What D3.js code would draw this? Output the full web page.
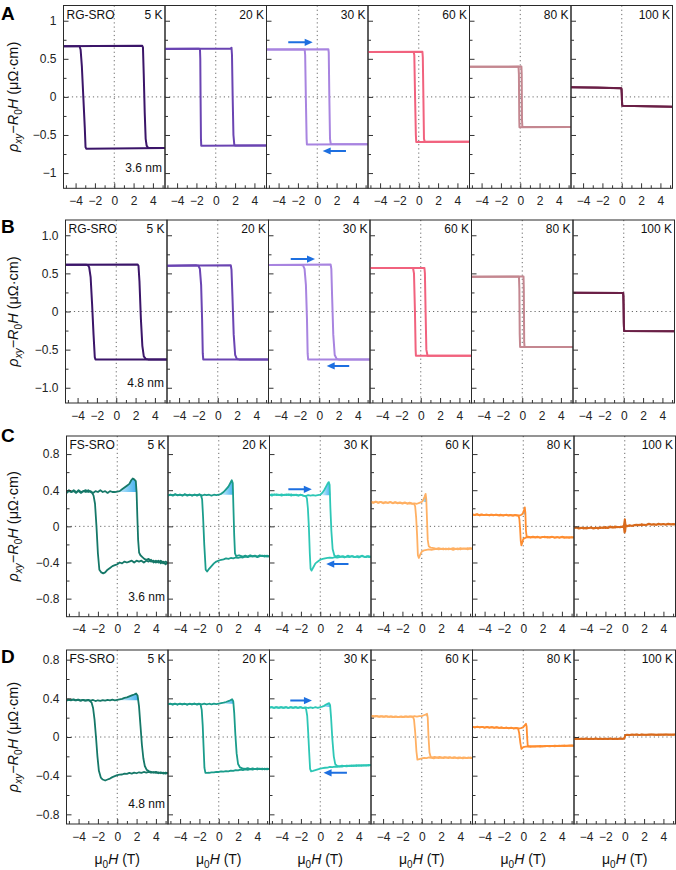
<!DOCTYPE html>
<html><head><meta charset="utf-8">
<script src="https://cdn.jsdelivr.net/npm/d3@7"></script>
<style>body{margin:0;background:#fff;} svg{display:block;font-family:"Liberation Sans",Arial,sans-serif;}</style>
</head><body><svg id="c" width="676" height="870"></svg>
<script>
// ---------------- data ----------------
const temps = ["5 K","20 K","30 K","60 K","80 K","100 K"];
const rowLetters = ["A","B","C","D"];
const materials = ["RG-SRO","RG-SRO","FS-SRO","FS-SRO"];
const thicknesses = ["3.6 nm","4.8 nm","3.6 nm","4.8 nm"];
const xTicks = [-4,-2,0,2,4];
const xMinor = [-5,-3,-1,1,3,5];
const yTicksAB = [-1,-0.5,0,0.5,1];
const yMinorAB = [-0.75,-0.25,0.25,0.75];
const yLabelsA = ["−1","−0.5","0","0.5","1"];
const yLabelsB = ["−1.0","−0.5","0","0.5","1.0"];
const yTicksCD = [-0.8,-0.4,0,0.4,0.8];
const yMinorCD = [-0.6,-0.2,0.2,0.6];
const yLabelsCD = ["−0.8","−0.4","0","0.4","0.8"];
const colorsRG = ["#3b1569","#6a44b2","#a884e0","#f1627e","#c48790","#6a1f46"];
const colorsFS = ["#157868","#1a9c8b","#2dc7b6","#ffb063","#ff8d30","#d86a1c"];

// each loop: [up-sweep points, down-sweep points], points are [μ0H (T), ρ (μΩ·cm)]
const loopsA = [
 [[[-5.25,0.665],[-2,0.667],[2.9,0.67],[2.97,0.65],[3.05,0.3],[3.15,-0.2],[3.25,-0.55],[3.35,-0.64],[3.52,-0.672],[5.25,-0.672]],
  [[5.25,-0.672],[-2.9,-0.68],[-2.97,-0.66],[-3.05,-0.4],[-3.2,0.0],[-3.35,0.4],[-3.48,0.62],[-3.59,0.665],[-5.25,0.665]]],
 [[[-5.25,0.63],[1.55,0.635],[1.63,0.645],[1.68,0.55],[1.75,0.0],[1.83,-0.5],[1.92,-0.63],[2.0,-0.637],[5.25,-0.637]],
  [[5.25,-0.637],[-1.5,-0.64],[-1.53,-0.55],[-1.57,0],[-1.6,0.5],[-1.63,0.62],[-1.7,0.632],[-5.25,0.632]]],
 [[[-5.25,0.622],[1.15,0.627],[1.19,0.58],[1.25,0],[1.32,-0.55],[1.4,-0.62],[5.25,-0.622]],
  [[5.25,-0.622],[-1.07,-0.625],[-1.1,-0.55],[-1.18,0],[-1.25,0.55],[-1.3,0.622],[-5.25,0.622]]],
 [[[-5.25,0.59],[0.38,0.593],[0.42,0.52],[0.48,0],[0.54,-0.55],[0.62,-0.59],[5.25,-0.59]],
  [[5.25,-0.59],[-0.26,-0.593],[-0.3,-0.5],[-0.38,0],[-0.46,0.55],[-0.53,0.59],[-5.25,0.59]]],
 [[[-5.25,0.395],[0.12,0.398],[0.15,0.3],[0.18,-0.3],[0.22,-0.395],[5.25,-0.395]],
  [[5.25,-0.395],[-0.08,-0.398],[-0.1,-0.3],[-0.14,0.3],[-0.18,0.395],[-5.25,0.395]]],
 [[[-5.25,0.128],[-2.5,0.122],[-0.04,0.115],[0,0.05],[0.04,-0.1],[0.08,-0.115],[2.5,-0.122],[5.25,-0.13]],
  [[5.25,-0.13],[2.5,-0.123],[0.06,-0.117],[0.02,-0.05],[-0.02,0.1],[-0.06,0.113],[-2.5,0.121],[-5.25,0.127]]]
];
const loopsB = [
 [[[-5.25,0.614],[2.2,0.617],[2.3,0.6],[2.4,0.4],[2.55,-0.1],[2.7,-0.45],[2.85,-0.59],[3.05,-0.622],[3.3,-0.628],[5.25,-0.628]],
  [[5.25,-0.628],[-2.15,-0.628],[-2.22,-0.6],[-2.35,-0.3],[-2.5,0.1],[-2.65,0.45],[-2.8,0.58],[-2.95,0.61],[-3.15,0.614],[-5.25,0.614]]],
 [[[-5.25,0.6],[1.35,0.605],[1.42,0.55],[1.52,0.2],[1.65,-0.3],[1.8,-0.57],[1.97,-0.622],[2.2,-0.628],[5.25,-0.628]],
  [[5.25,-0.628],[-1.5,-0.628],[-1.55,-0.55],[-1.62,-0.1],[-1.72,0.35],[-1.85,0.56],[-2.0,0.6],[-2.2,0.605],[-5.25,0.6]]],
 [[[-5.25,0.61],[1.18,0.615],[1.25,0.56],[1.33,0.2],[1.45,-0.3],[1.6,-0.57],[1.8,-0.622],[2.0,-0.628],[5.25,-0.628]],
  [[5.25,-0.628],[-1.15,-0.628],[-1.2,-0.55],[-1.27,-0.1],[-1.38,0.35],[-1.52,0.56],[-1.68,0.605],[-1.9,0.61],[-5.25,0.61]]],
 [[[-5.25,0.57],[0.38,0.572],[0.43,0.5],[0.5,0],[0.58,-0.5],[0.7,-0.58],[5.25,-0.58]],
  [[5.25,-0.58],[-0.5,-0.58],[-0.53,-0.5],[-0.6,0],[-0.7,0.5],[-0.8,0.57],[-5.25,0.57]]],
 [[[-5.25,0.457],[0.13,0.46],[0.16,0.3],[0.2,-0.4],[0.24,-0.466],[5.25,-0.466]],
  [[5.25,-0.466],[-0.22,-0.466],[-0.26,-0.3],[-0.3,0.3],[-0.34,0.457],[-5.25,0.457]]],
 [[[-5.25,0.245],[-0.06,0.244],[-0.02,0.1],[0.02,-0.2],[0.05,-0.256],[5.25,-0.258]],
  [[5.25,-0.258],[0.04,-0.257],[0,-0.15],[-0.03,0.2],[-0.06,0.244],[-5.25,0.245]]]
];
const loopsC = [
 [[[-5.25,0.37],[-5,0.39],[-4.75,0.38],[-4.5,0.40],[-4.25,0.38],[-4,0.39],[-3.75,0.37],[-3.5,0.39],[-3.25,0.40],[-3,0.38],[-2.75,0.39],[-2.5,0.37],[-2.25,0.39],[-2,0.38],[-1.75,0.40],[-1.5,0.38],[-1.25,0.39],[-1,0.37],[-0.75,0.39],[-0.5,0.38],[-0.25,0.38],[0,0.385],[0.25,0.39],[0.5,0.41],[0.75,0.43],[1,0.45],[1.25,0.47],[1.45,0.51],[1.6,0.53],[1.75,0.52],[1.92,0.5],[2.0,0.38],[2.08,0.1],[2.16,-0.15],[2.26,-0.29],[2.4,-0.32],[2.6,-0.34],[2.8,-0.36],[3,-0.37],[3.25,-0.36],[3.5,-0.39],[3.75,-0.38],[4,-0.40],[4.25,-0.38],[4.5,-0.41],[4.75,-0.39],[5,-0.42],[5.25,-0.40]],
  [[5.25,-0.41],[5,-0.39],[4.75,-0.41],[4.5,-0.38],[4.25,-0.40],[4,-0.38],[3.75,-0.40],[3.5,-0.37],[3.25,-0.39],[3,-0.38],[2.75,-0.40],[2.5,-0.38],[2.25,-0.39],[2,-0.38],[1.75,-0.40],[1.5,-0.38],[1.25,-0.39],[1,-0.40],[0.75,-0.39],[0.5,-0.41],[0.25,-0.40],[0,-0.42],[-0.25,-0.43],[-0.5,-0.44],[-0.75,-0.46],[-1,-0.48],[-1.25,-0.51],[-1.45,-0.52],[-1.65,-0.51],[-1.85,-0.48],[-2.0,-0.3],[-2.15,0],[-2.3,0.25],[-2.45,0.34],[-2.6,0.37],[-2.75,0.38],[-3,0.40],[-3.25,0.38],[-3.5,0.39],[-3.75,0.38],[-4,0.40],[-4.25,0.37],[-4.5,0.39],[-4.75,0.38],[-5,0.40],[-5.25,0.38]]],
 [[[-5.25,0.34],[-5,0.35],[-4.75,0.34],[-4.5,0.355],[-4.25,0.345],[-4,0.35],[-3.75,0.34],[-3.5,0.355],[-3.25,0.345],[-3,0.35],[-2.75,0.34],[-2.5,0.35],[-2.25,0.345],[-2,0.355],[-1.75,0.34],[-1.5,0.35],[-1.25,0.345],[-1,0.35],[-0.75,0.34],[-0.5,0.35],[-0.25,0.345],[0,0.35],[0.25,0.36],[0.5,0.38],[0.75,0.41],[1,0.44],[1.2,0.48],[1.35,0.51],[1.45,0.48],[1.52,0.2],[1.6,-0.1],[1.68,-0.3],[1.8,-0.33],[2.1,-0.32],[2.5,-0.335],[2.75,-0.325],[3,-0.335],[3.25,-0.32],[3.5,-0.33],[3.75,-0.325],[4,-0.335],[4.25,-0.32],[4.5,-0.33],[4.75,-0.325],[5,-0.335],[5.25,-0.33]],
  [[5.25,-0.335],[5,-0.325],[4.75,-0.335],[4.5,-0.325],[4.25,-0.33],[4,-0.34],[3.75,-0.33],[3.5,-0.335],[3.25,-0.33],[3,-0.34],[2.75,-0.335],[2.5,-0.345],[2.25,-0.34],[2,-0.35],[1.75,-0.345],[1.5,-0.355],[1.25,-0.35],[1,-0.36],[0.75,-0.355],[0.5,-0.365],[0.25,-0.37],[0,-0.38],[-0.25,-0.39],[-0.5,-0.41],[-0.75,-0.44],[-1,-0.47],[-1.2,-0.5],[-1.35,-0.48],[-1.5,-0.2],[-1.62,0.1],[-1.72,0.3],[-1.85,0.345],[-2,0.35],[-2.25,0.34],[-2.5,0.352],[-2.75,0.343],[-3,0.35],[-3.25,0.34],[-3.5,0.353],[-3.75,0.344],[-4,0.35],[-4.25,0.342],[-4.5,0.354],[-4.75,0.345],[-5,0.352],[-5.25,0.344]]],
 [[[-5.25,0.35],[-5,0.34],[-4.75,0.355],[-4.5,0.345],[-4.25,0.35],[-4,0.34],[-3.75,0.35],[-3.5,0.345],[-3.25,0.355],[-3,0.34],[-2.75,0.35],[-2.5,0.345],[-2.25,0.34],[-2,0.35],[-1.75,0.34],[-1.5,0.335],[-1.25,0.345],[-1,0.34],[-0.75,0.345],[-0.5,0.34],[-0.25,0.345],[0,0.35],[0.2,0.37],[0.4,0.4],[0.6,0.44],[0.75,0.47],[0.88,0.49],[0.97,0.46],[1.05,0.2],[1.15,-0.05],[1.28,-0.25],[1.45,-0.32],[1.6,-0.335],[1.85,-0.325],[2.1,-0.335],[2.35,-0.33],[2.6,-0.34],[2.85,-0.325],[3.1,-0.335],[3.35,-0.33],[3.6,-0.34],[3.85,-0.33],[4.1,-0.335],[4.35,-0.325],[4.6,-0.34],[4.85,-0.33],[5.05,-0.34],[5.25,-0.335]],
  [[5.25,-0.34],[5,-0.33],[4.75,-0.34],[4.5,-0.335],[4.25,-0.33],[4,-0.345],[3.75,-0.335],[3.5,-0.34],[3.25,-0.33],[3,-0.34],[2.75,-0.335],[2.5,-0.345],[2.25,-0.335],[2,-0.34],[1.75,-0.345],[1.5,-0.34],[1.25,-0.35],[1,-0.345],[0.75,-0.35],[0.5,-0.355],[0.25,-0.36],[0,-0.37],[-0.25,-0.39],[-0.5,-0.41],[-0.7,-0.45],[-0.9,-0.49],[-1.0,-0.47],[-1.08,-0.3],[-1.18,0],[-1.28,0.2],[-1.38,0.31],[-1.5,0.335],[-1.75,0.34],[-2,0.35],[-2.25,0.342],[-2.5,0.352],[-2.75,0.344],[-3,0.353],[-3.25,0.345],[-3.5,0.354],[-3.75,0.346],[-4,0.353],[-4.25,0.345],[-4.5,0.355],[-4.75,0.347],[-5,0.354],[-5.25,0.346]]],
 [[[-5.25,0.27],[-5,0.26],[-4.75,0.275],[-4.5,0.26],[-4.25,0.27],[-4,0.255],[-3.75,0.265],[-3.5,0.26],[-3.25,0.27],[-3,0.255],[-2.75,0.265],[-2.5,0.255],[-2.25,0.26],[-2,0.25],[-1.75,0.26],[-1.5,0.25],[-1.25,0.255],[-1,0.25],[-0.75,0.255],[-0.5,0.25],[-0.25,0.26],[0,0.27],[0.15,0.29],[0.3,0.33],[0.4,0.36],[0.47,0.3],[0.55,0.05],[0.62,-0.15],[0.72,-0.22],[0.9,-0.235],[1.25,-0.24],[1.5,-0.25],[1.75,-0.24],[2,-0.25],[2.25,-0.245],[2.5,-0.255],[2.75,-0.245],[3,-0.25],[3.25,-0.24],[3.5,-0.25],[3.75,-0.245],[4,-0.255],[4.25,-0.245],[4.5,-0.25],[4.75,-0.24],[5,-0.25],[5.25,-0.245]],
  [[5.25,-0.25],[5,-0.24],[4.75,-0.255],[4.5,-0.245],[4.25,-0.25],[4,-0.24],[3.75,-0.255],[3.5,-0.25],[3.25,-0.26],[3,-0.25],[2.75,-0.255],[2.5,-0.245],[2.25,-0.255],[2,-0.25],[1.75,-0.255],[1.5,-0.25],[1.25,-0.255],[1,-0.26],[0.75,-0.255],[0.5,-0.26],[0.25,-0.265],[0,-0.28],[-0.15,-0.31],[-0.3,-0.35],[-0.4,-0.32],[-0.48,-0.1],[-0.58,0.1],[-0.68,0.22],[-0.8,0.25],[-1,0.255],[-1.25,0.262],[-1.5,0.255],[-1.75,0.265],[-2,0.258],[-2.25,0.266],[-2.5,0.259],[-2.75,0.267],[-3,0.26],[-3.25,0.268],[-3.5,0.261],[-3.75,0.269],[-4,0.262],[-4.25,0.27],[-4.5,0.263],[-4.75,0.271],[-5,0.264],[-5.25,0.27]]],
 [[[-5.25,0.13],[-5,0.125],[-4.75,0.135],[-4.5,0.12],[-4.25,0.13],[-4,0.125],[-3.75,0.13],[-3.5,0.12],[-3.25,0.13],[-3,0.125],[-2.75,0.13],[-2.5,0.12],[-2.25,0.125],[-2,0.12],[-1.75,0.13],[-1.5,0.12],[-1.25,0.125],[-1,0.12],[-0.75,0.125],[-0.5,0.12],[-0.25,0.125],[-0.05,0.14],[0.08,0.18],[0.16,0.21],[0.22,0.15],[0.28,-0.05],[0.35,-0.11],[0.5,-0.115],[0.75,-0.12],[1,-0.115],[1.25,-0.12],[1.5,-0.115],[1.75,-0.125],[2,-0.12],[2.25,-0.115],[2.5,-0.125],[2.75,-0.12],[3,-0.115],[3.25,-0.125],[3.5,-0.12],[3.75,-0.125],[4,-0.115],[4.25,-0.12],[4.5,-0.125],[4.75,-0.12],[5,-0.125],[5.25,-0.12]],
  [[5.25,-0.125],[5,-0.118],[4.75,-0.127],[4.5,-0.12],[4.25,-0.128],[4,-0.12],[3.75,-0.126],[3.5,-0.118],[3.25,-0.125],[3,-0.117],[2.75,-0.124],[2.5,-0.116],[2.25,-0.123],[2,-0.117],[1.75,-0.124],[1.5,-0.118],[1.25,-0.125],[1,-0.12],[0.75,-0.126],[0.5,-0.12],[0.25,-0.125],[0,-0.14],[-0.1,-0.18],[-0.19,-0.21],[-0.26,-0.16],[-0.33,-0.02],[-0.4,0.08],[-0.47,0.115],[-0.6,0.12],[-0.85,0.126],[-1.1,0.119],[-1.35,0.127],[-1.6,0.12],[-1.85,0.128],[-2.1,0.121],[-2.35,0.129],[-2.6,0.122],[-2.85,0.13],[-3.1,0.122],[-3.35,0.13],[-3.6,0.123],[-3.85,0.131],[-4.1,0.124],[-4.35,0.132],[-4.6,0.125],[-4.85,0.133],[-5.05,0.126],[-5.25,0.132]]],
 [[[-5.25,-0.02],[-5,-0.01],[-4.75,-0.02],[-4.5,-0.015],[-4.25,-0.025],[-4,-0.015],[-3.75,-0.02],[-3.5,-0.01],[-3.25,-0.02],[-3,-0.015],[-2.75,-0.025],[-2.5,-0.01],[-2.25,-0.02],[-2,-0.005],[-1.75,-0.02],[-1.5,-0.01],[-1.25,-0.015],[-1,0],[-0.75,-0.01],[-0.5,-0.005],[-0.25,0],[-0.1,0.005],[0,0.08],[0.05,-0.06],[0.12,0.01],[0.25,0.005],[0.5,0.01],[0.75,0.005],[1,0.015],[1.25,0.02],[1.5,0.01],[1.75,0.025],[2,0.015],[2.25,0.02],[2.5,0.03],[2.75,0.02],[3,0.025],[3.25,0.02],[3.5,0.03],[3.75,0.02],[4,0.025],[4.25,0.02],[4.5,0.03],[4.75,0.025],[5,0.02],[5.25,0.025]],
  [[5.25,0.02],[5,0.028],[4.75,0.02],[4.5,0.025],[4.25,0.018],[4,0.028],[3.75,0.022],[3.5,0.025],[3.25,0.015],[3,0.022],[2.75,0.018],[2.5,0.025],[2.25,0.015],[2,0.02],[1.75,0.012],[1.5,0.018],[1.25,0.01],[1,0.012],[0.75,0.005],[0.5,0.01],[0.25,0],[0.1,0.005],[0.03,0.07],[-0.03,-0.07],[-0.1,-0.01],[-0.25,-0.005],[-0.5,-0.01],[-0.75,-0.005],[-1,-0.015],[-1.25,-0.01],[-1.5,0],[-1.75,-0.015],[-2,-0.02],[-2.25,-0.01],[-2.5,-0.02],[-2.75,-0.015],[-3,-0.02],[-3.25,-0.025],[-3.5,-0.015],[-3.75,-0.02],[-4,-0.025],[-4.25,-0.015],[-4.5,-0.02],[-4.75,-0.025],[-5,-0.015],[-5.25,-0.02]]]
];
const loopsD = [
 [[[-5.25,0.375],[-5,0.385],[-4.75,0.38],[-4.5,0.39],[-4.25,0.378],[-4,0.386],[-3.75,0.375],[-3.5,0.384],[-3.25,0.377],[-3,0.385],[-2.75,0.376],[-2.5,0.383],[-2.25,0.372],[-2,0.38],[-1.75,0.374],[-1.5,0.382],[-1.25,0.376],[-1,0.384],[-0.75,0.378],[-0.5,0.386],[-0.25,0.38],[0,0.385],[0.25,0.39],[0.5,0.395],[0.75,0.405],[1,0.41],[1.25,0.42],[1.5,0.43],[1.75,0.44],[1.95,0.45],[2.1,0.43],[2.25,0.32],[2.4,0.12],[2.55,-0.08],[2.7,-0.22],[2.85,-0.3],[3.05,-0.34],[3.3,-0.355],[3.5,-0.36],[3.75,-0.37],[4,-0.36],[4.25,-0.375],[4.5,-0.365],[4.75,-0.378],[5,-0.368],[5.25,-0.375]],
  [[5.25,-0.37],[5,-0.378],[4.75,-0.368],[4.5,-0.375],[4.25,-0.365],[4,-0.372],[3.75,-0.362],[3.5,-0.37],[3.25,-0.36],[3,-0.368],[2.75,-0.362],[2.5,-0.372],[2.25,-0.365],[2,-0.375],[1.75,-0.368],[1.5,-0.378],[1.25,-0.372],[1,-0.382],[0.75,-0.378],[0.5,-0.388],[0.25,-0.39],[0,-0.395],[-0.25,-0.405],[-0.5,-0.415],[-0.75,-0.43],[-1,-0.44],[-1.25,-0.45],[-1.5,-0.44],[-1.7,-0.42],[-1.9,-0.35],[-2.05,-0.2],[-2.2,0.0],[-2.35,0.18],[-2.5,0.3],[-2.65,0.355],[-2.85,0.375],[-3.1,0.382],[-3.35,0.376],[-3.6,0.385],[-3.85,0.377],[-4.1,0.386],[-4.35,0.378],[-4.6,0.388],[-4.85,0.38],[-5.05,0.387],[-5.25,0.38]]],
 [[[-5.25,0.34],[-5,0.345],[-4.75,0.335],[-4.5,0.344],[-4.25,0.336],[-4,0.345],[-3.75,0.337],[-3.5,0.343],[-3.25,0.335],[-3,0.344],[-2.75,0.338],[-2.5,0.345],[-2.25,0.336],[-2,0.343],[-1.75,0.338],[-1.5,0.345],[-1.25,0.337],[-1,0.344],[-0.75,0.338],[-0.5,0.345],[-0.25,0.34],[0,0.345],[0.25,0.35],[0.5,0.355],[0.75,0.362],[1,0.372],[1.2,0.38],[1.38,0.39],[1.5,0.37],[1.6,0.25],[1.72,0.02],[1.85,-0.17],[2.0,-0.28],[2.2,-0.315],[2.45,-0.325],[2.75,-0.33],[3,-0.322],[3.25,-0.332],[3.5,-0.325],[3.75,-0.333],[4,-0.325],[4.25,-0.333],[4.5,-0.326],[4.75,-0.334],[5,-0.327],[5.25,-0.333]],
  [[5.25,-0.328],[5,-0.334],[4.75,-0.327],[4.5,-0.335],[4.25,-0.328],[4,-0.336],[3.75,-0.33],[3.5,-0.338],[3.25,-0.332],[3,-0.34],[2.75,-0.335],[2.5,-0.342],[2.25,-0.338],[2,-0.346],[1.75,-0.342],[1.5,-0.35],[1.25,-0.347],[1,-0.355],[0.75,-0.352],[0.5,-0.358],[0.25,-0.356],[0,-0.362],[-0.25,-0.36],[-0.5,-0.366],[-0.75,-0.365],[-1,-0.37],[-1.2,-0.372],[-1.38,-0.37],[-1.48,-0.32],[-1.57,-0.1],[-1.66,0.12],[-1.76,0.28],[-1.88,0.335],[-2.05,0.345],[-2.3,0.338],[-2.55,0.345],[-2.8,0.337],[-3.05,0.344],[-3.3,0.336],[-3.55,0.345],[-3.8,0.337],[-4.05,0.344],[-4.3,0.336],[-4.55,0.345],[-4.8,0.337],[-5.05,0.344],[-5.25,0.338]]],
 [[[-5.25,0.305],[-5,0.31],[-4.75,0.3],[-4.5,0.308],[-4.25,0.301],[-4,0.31],[-3.75,0.302],[-3.5,0.309],[-3.25,0.3],[-3,0.308],[-2.75,0.302],[-2.5,0.31],[-2.25,0.301],[-2,0.308],[-1.75,0.3],[-1.5,0.307],[-1.25,0.3],[-1,0.306],[-0.75,0.3],[-0.5,0.308],[-0.25,0.302],[0,0.31],[0.2,0.315],[0.4,0.322],[0.6,0.335],[0.8,0.345],[0.92,0.35],[1.02,0.33],[1.12,0.2],[1.25,-0.02],[1.4,-0.2],[1.55,-0.28],[1.75,-0.3],[2,-0.303],[2.25,-0.297],[2.5,-0.302],[2.75,-0.295],[3,-0.3],[3.25,-0.294],[3.5,-0.3],[3.75,-0.292],[4,-0.298],[4.25,-0.291],[4.5,-0.297],[4.75,-0.29],[5,-0.295],[5.25,-0.289]],
  [[5.25,-0.293],[5,-0.288],[4.75,-0.296],[4.5,-0.29],[4.25,-0.298],[4,-0.292],[3.75,-0.3],[3.5,-0.294],[3.25,-0.302],[3,-0.297],[2.75,-0.304],[2.5,-0.3],[2.25,-0.307],[2,-0.303],[1.75,-0.31],[1.5,-0.306],[1.25,-0.312],[1,-0.31],[0.75,-0.316],[0.5,-0.318],[0.25,-0.322],[0,-0.328],[-0.25,-0.335],[-0.5,-0.342],[-0.75,-0.35],[-0.95,-0.355],[-1.05,-0.33],[-1.15,-0.15],[-1.25,0.05],[-1.35,0.22],[-1.47,0.29],[-1.6,0.305],[-1.85,0.3],[-2.1,0.308],[-2.35,0.3],[-2.6,0.309],[-2.85,0.301],[-3.1,0.308],[-3.35,0.3],[-3.6,0.31],[-3.85,0.302],[-4.1,0.309],[-4.35,0.301],[-4.6,0.31],[-4.85,0.302],[-5.05,0.309],[-5.25,0.303]]],
 [[[-5.25,0.215],[-5,0.21],[-4.75,0.218],[-4.5,0.21],[-4.25,0.216],[-4,0.208],[-3.75,0.215],[-3.5,0.207],[-3.25,0.214],[-3,0.206],[-2.75,0.213],[-2.5,0.205],[-2.25,0.212],[-2,0.206],[-1.75,0.213],[-1.5,0.207],[-1.25,0.214],[-1,0.208],[-0.75,0.215],[-0.5,0.21],[-0.25,0.217],[0,0.215],[0.2,0.225],[0.4,0.232],[0.55,0.24],[0.62,0.2],[0.7,0.0],[0.8,-0.16],[0.92,-0.205],[1.1,-0.21],[1.35,-0.205],[1.6,-0.212],[1.85,-0.206],[2.1,-0.213],[2.35,-0.207],[2.6,-0.214],[2.85,-0.208],[3.1,-0.215],[3.35,-0.209],[3.6,-0.216],[3.85,-0.21],[4.1,-0.217],[4.35,-0.211],[4.6,-0.218],[4.85,-0.212],[5.05,-0.219],[5.25,-0.214]],
  [[5.25,-0.218],[5,-0.212],[4.75,-0.219],[4.5,-0.213],[4.25,-0.22],[4,-0.214],[3.75,-0.22],[3.5,-0.213],[3.25,-0.219],[3,-0.212],[2.75,-0.218],[2.5,-0.212],[2.25,-0.218],[2,-0.213],[1.75,-0.219],[1.5,-0.214],[1.25,-0.22],[1,-0.215],[0.75,-0.212],[0.5,-0.218],[0.25,-0.215],[0,-0.222],[-0.25,-0.228],[-0.45,-0.234],[-0.55,-0.15],[-0.68,0.05],[-0.8,0.18],[-0.92,0.21],[-1.1,0.213],[-1.35,0.207],[-1.6,0.214],[-1.85,0.206],[-2.1,0.213],[-2.35,0.205],[-2.6,0.212],[-2.85,0.206],[-3.1,0.214],[-3.35,0.207],[-3.6,0.215],[-3.85,0.208],[-4.1,0.216],[-4.35,0.209],[-4.6,0.217],[-4.85,0.21],[-5.05,0.218],[-5.25,0.212]]],
 [[[-5.25,0.105],[-5,0.1],[-4.75,0.107],[-4.5,0.1],[-4.25,0.105],[-4,0.098],[-3.75,0.104],[-3.5,0.097],[-3.25,0.103],[-3,0.096],[-2.75,0.101],[-2.5,0.095],[-2.25,0.1],[-2,0.093],[-1.75,0.098],[-1.5,0.092],[-1.25,0.096],[-1,0.09],[-0.75,0.094],[-0.5,0.088],[-0.25,0.092],[0,0.1],[0.15,0.12],[0.28,0.137],[0.35,0.11],[0.4,0.0],[0.46,-0.085],[0.55,-0.097],[0.75,-0.095],[1,-0.098],[1.25,-0.094],[1.5,-0.097],[1.75,-0.093],[2,-0.096],[2.25,-0.092],[2.5,-0.095],[2.75,-0.091],[3,-0.094],[3.25,-0.09],[3.5,-0.093],[3.75,-0.089],[4,-0.092],[4.25,-0.088],[4.5,-0.091],[4.75,-0.087],[5,-0.09],[5.25,-0.088]],
  [[5.25,-0.091],[5,-0.088],[4.75,-0.092],[4.5,-0.089],[4.25,-0.094],[4,-0.09],[3.75,-0.095],[3.5,-0.091],[3.25,-0.096],[3,-0.092],[2.75,-0.097],[2.5,-0.093],[2.25,-0.098],[2,-0.094],[1.75,-0.099],[1.5,-0.095],[1.25,-0.1],[1,-0.096],[0.75,-0.101],[0.5,-0.098],[0.25,-0.1],[0,-0.105],[-0.1,-0.115],[-0.19,-0.124],[-0.3,-0.06],[-0.42,0.04],[-0.54,0.09],[-0.75,0.092],[-1,0.088],[-1.25,0.094],[-1.5,0.09],[-1.75,0.096],[-2,0.092],[-2.25,0.098],[-2.5,0.094],[-2.75,0.1],[-3,0.095],[-3.25,0.101],[-3.5,0.096],[-3.75,0.102],[-4,0.098],[-4.25,0.104],[-4.5,0.099],[-4.75,0.105],[-5,0.1],[-5.25,0.106]]],
 [[[-5.25,-0.02],[-5,-0.015],[-4.75,-0.022],[-4.5,-0.018],[-4.25,-0.02],[-4,-0.015],[-3.75,-0.022],[-3.5,-0.018],[-3.25,-0.02],[-3,-0.015],[-2.75,-0.02],[-2.5,-0.018],[-2.25,-0.022],[-2,-0.016],[-1.75,-0.02],[-1.5,-0.017],[-1.25,-0.022],[-1,-0.018],[-0.75,-0.02],[-0.5,-0.015],[-0.25,-0.018],[-0.05,-0.015],[0,0.005],[0.08,0.022],[0.25,0.025],[0.5,0.022],[0.75,0.027],[1,0.024],[1.25,0.028],[1.5,0.023],[1.75,0.027],[2,0.025],[2.25,0.022],[2.5,0.027],[2.75,0.024],[3,0.028],[3.25,0.023],[3.5,0.026],[3.75,0.022],[4,0.027],[4.25,0.024],[4.5,0.026],[4.75,0.022],[5,0.027],[5.25,0.025]],
  [[5.25,0.027],[5,0.023],[4.75,0.026],[4.5,0.021],[4.25,0.026],[4,0.023],[3.75,0.027],[3.5,0.022],[3.25,0.025],[3,0.021],[2.75,0.026],[2.5,0.022],[2.25,0.025],[2,0.021],[1.75,0.024],[1.5,0.02],[1.25,0.024],[1,0.021],[0.75,0.023],[0.5,0.02],[0.25,0.022],[0.05,0.018],[0,0.0],[-0.06,-0.017],[-0.25,-0.02],[-0.5,-0.017],[-0.75,-0.022],[-1,-0.016],[-1.25,-0.02],[-1.5,-0.015],[-1.75,-0.021],[-2,-0.017],[-2.25,-0.02],[-2.5,-0.016],[-2.75,-0.022],[-3,-0.017],[-3.25,-0.021],[-3.5,-0.016],[-3.75,-0.02],[-4,-0.017],[-4.25,-0.022],[-4.5,-0.016],[-4.75,-0.021],[-5,-0.018],[-5.25,-0.022]]]
];
// sweep-direction arrows in the 30 K panels: [H start, H tip, ρ]
const arrowsA = [[-3.0,-0.47,0.716],[2.97,0.56,-0.71]];
const arrowsB = [[-2.95,-0.44,0.688],[3.1,0.77,-0.714]];
const arrowsC = [[-3.3,-0.87,0.41],[2.92,0.62,-0.417]];
const arrowsD = [[-3.1,-0.86,0.377],[2.76,0.34,-0.371]];
// shaded hump regions: [H from, H to, baseline ρ]
const fillsC = [[0,2.04,0.38],[0.15,1.54,0.35],[0.15,1.08,0.345],[0.1,0.52,0.27],[-0.05,0.26,0.13],null];
const fillsD = [[0.1,2.32,0.38],[0.3,1.62,0.345],[0.3,1.14,0.31],[0.3,0.63,0.215],null,null];

// ---------------- drawing ----------------
const svg = d3.select("#c");
const defs = svg.append("defs");
const grad = defs.append("linearGradient").attr("id","bluefill")
  .attr("x1","0").attr("x2","1").attr("y1","0").attr("y2","0");
grad.append("stop").attr("offset","0").attr("stop-color","#d6effc");
grad.append("stop").attr("offset","0.55").attr("stop-color","#7fccf5");
grad.append("stop").attr("offset","1").attr("stop-color","#45b1f0");

const W = 101.5;
const rows = [
 {letter:rowLetters[0], mat:materials[0], thick:thicknesses[0], top:5.5, bottom:188.3, left:63.5, dom:[-1.2,1.2], ticks:yTicksAB, minor:yMinorAB, labels:yLabelsA, loops:loopsA, colors:colorsRG, arrows:arrowsA, fills:null, lw:2, letterY:19.5},
 {letter:rowLetters[1], mat:materials[1], thick:thicknesses[1], top:220, bottom:403, left:65.5, dom:[-1.2,1.2], ticks:yTicksAB, minor:yMinorAB, labels:yLabelsB, loops:loopsB, colors:colorsRG, arrows:arrowsB, fills:null, lw:2, letterY:233},
 {letter:rowLetters[2], mat:materials[2], thick:thicknesses[2], top:436, bottom:616.7, left:66.5, dom:[-1,1], ticks:yTicksCD, minor:yMinorCD, labels:yLabelsCD, loops:loopsC, colors:colorsFS, arrows:arrowsC, fills:fillsC, lw:1.8, letterY:442},
 {letter:rowLetters[3], mat:materials[3], thick:thicknesses[3], top:650, bottom:824, left:66.5, dom:[-0.9,0.9], ticks:yTicksCD, minor:yMinorCD, labels:yLabelsCD, loops:loopsD, colors:colorsFS, arrows:arrowsD, fills:fillsD, lw:1.8, letterY:663}
];

const fmtX = d => d < 0 ? "−" + Math.abs(d) : String(d);

rows.forEach((r, ri) => {
  svg.append("text").attr("x", 1).attr("y", r.letterY)
    .attr("font-size", 19).attr("font-weight", "bold").attr("fill", "#000").text(r.letter);
  const cy = (r.top + r.bottom) / 2;
  const yt = svg.append("text").attr("transform", `translate(18,${cy}) rotate(-90)`)
    .attr("text-anchor", "middle").attr("font-size", 14.5).attr("fill", "#111");
  yt.append("tspan").attr("font-style","italic").text("ρ");
  yt.append("tspan").attr("font-size", 10).attr("font-style","italic").attr("dy", 3.5).text("xy");
  yt.append("tspan").attr("dy", -3.5).text("−");
  yt.append("tspan").attr("font-style","italic").text("R");
  yt.append("tspan").attr("font-size", 10).attr("dy", 3.5).text("0");
  yt.append("tspan").attr("font-style","italic").attr("dy", -3.5).text("H");
  yt.append("tspan").text(" (μΩ·cm)");

  const y = d3.scaleLinear().domain(r.dom).range([r.bottom, r.top]);
  r.loops.forEach((loop, i) => {
    const x0 = r.left + i * W, x1 = x0 + W;
    const x = d3.scaleLinear().domain([-5.25, 5.25]).range([x0, x1]);
    const g = svg.append("g");
    const cid = `clip${ri}_${i}`;
    defs.append("clipPath").attr("id", cid).append("rect")
      .attr("x", x0).attr("y", r.top).attr("width", W).attr("height", r.bottom - r.top);
    const plot = g.append("g").attr("clip-path", `url(#${cid})`);
    plot.append("line").attr("x1", x(0)).attr("x2", x(0)).attr("y1", r.top).attr("y2", r.bottom)
      .attr("stroke", "#6a6a6a").attr("stroke-width", 1).attr("stroke-dasharray", "1.2,3");
    plot.append("line").attr("x1", x0).attr("x2", x1).attr("y1", y(0)).attr("y2", y(0))
      .attr("stroke", "#6a6a6a").attr("stroke-width", 1).attr("stroke-dasharray", "1.2,3");
    if (r.fills && r.fills[i]) {
      const [h0, h1, base] = r.fills[i];
      const pts = loop[0].filter(p => p[0] >= h0 && p[0] <= h1);
      const area = d3.area().x(p => x(p[0])).y0(y(base)).y1(p => y(Math.max(p[1], base)));
      plot.append("path").attr("d", area(pts)).attr("fill", "url(#bluefill)");
    }
    const line = d3.line().x(p => x(p[0])).y(p => y(p[1])).curve(d3.curveLinear);
    loop.forEach(branch => {
      plot.append("path").attr("d", line(branch)).attr("fill", "none")
        .attr("stroke", r.colors[i]).attr("stroke-width", r.lw).attr("stroke-linejoin", "round");
    });
    if (i === 2) {
      r.arrows.forEach(a => {
        const xs = x(a[0]), xt = x(a[1]), yy = y(a[2]);
        const dir = Math.sign(xt - xs);
        plot.append("line").attr("x1", xs).attr("x2", xt - dir * 6).attr("y1", yy).attr("y2", yy)
          .attr("stroke", "#1d6fe0").attr("stroke-width", 2);
        plot.append("path").attr("d", `M${xt},${yy} L${xt - dir * 8},${yy - 3.6} L${xt - dir * 8},${yy + 3.6} Z`)
          .attr("fill", "#1d6fe0");
      });
    }
    g.append("rect").attr("x", x0).attr("y", r.top).attr("width", W).attr("height", r.bottom - r.top)
      .attr("fill", "none").attr("stroke", "#2a2a2a").attr("stroke-width", 1);
    g.append("g").attr("transform", `translate(0,${r.bottom})`)
      .call(d3.axisBottom(x).tickValues(xTicks).tickSizeInner(-5).tickSizeOuter(0).tickPadding(8).tickFormat(fmtX));
    g.append("g").attr("transform", `translate(0,${r.bottom})`)
      .call(d3.axisBottom(x).tickValues(xMinor).tickSizeInner(-3).tickSizeOuter(0).tickFormat(""));
    g.append("g").attr("transform", `translate(${x0},0)`)
      .call(d3.axisLeft(y).tickValues(r.ticks).tickSizeInner(-5).tickSizeOuter(0).tickPadding(7)
        .tickFormat((d, k) => i === 0 ? r.labels[k] : ""));
    g.append("g").attr("transform", `translate(${x0},0)`)
      .call(d3.axisLeft(y).tickValues(r.minor).tickSizeInner(-3).tickSizeOuter(0).tickFormat(""));
    g.selectAll(".domain").remove();
    g.selectAll(".tick line").attr("stroke", "#333");
    g.selectAll(".tick text").attr("font-size", 12).attr("fill", "#222")
      .attr("font-family", '"Liberation Sans",Arial,sans-serif');
    g.append("text").attr("x", x1 - 2.5).attr("y", r.top + 13).attr("text-anchor", "end")
      .attr("font-size", 12).attr("fill", "#111").text(temps[i]);
    if (i === 0) {
      g.append("text").attr("x", x0 + 3).attr("y", r.top + 13)
        .attr("font-size", 12).attr("fill", "#111").text(r.mat);
      g.append("text").attr("x", x1 - 3).attr("y", r.bottom - 16).attr("text-anchor", "end")
        .attr("font-size", 12).attr("fill", "#111").text(r.thick);
    }
    if (ri === 3) {
      const t = g.append("text").attr("x", (x0 + x1) / 2).attr("y", 864).attr("text-anchor", "middle")
        .attr("font-size", 14).attr("fill", "#111");
      t.append("tspan").text("μ");
      t.append("tspan").attr("font-size", 10).attr("dy", 3.5).text("0");
      t.append("tspan").attr("font-style", "italic").attr("dy", -3.5).text("H");
      t.append("tspan").text(" (T)");
    }
  });
});
</script>
</body></html>
